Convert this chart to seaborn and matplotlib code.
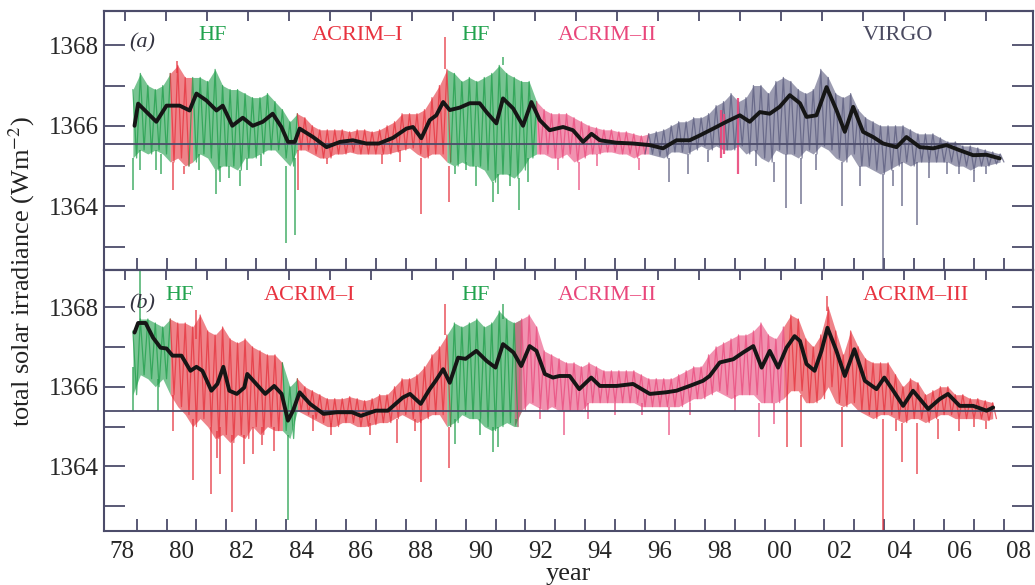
import numpy as np
import matplotlib
matplotlib.use("Agg")
import matplotlib.pyplot as plt
import seaborn as sns

# ---------------- data (years are 1900-based: 78 = 1978, 100 = 2000) ----------------
grid_start = 78.375
grid_step = 0.25

# panel (a): upper / lower envelope of the daily values, one pair per quarter year
hi_a = [1366.9, 1367.3, 1367.0, 1366.9, 1367.0, 1367.3, 1367.5, 1367.2, 1367.2, 1367.2,
        1367.1, 1367.4, 1367.0, 1366.9, 1366.9, 1366.8, 1366.7, 1366.7, 1366.8, 1366.6,
        1366.4, 1366.1, 1366.3, 1366.2, 1366.0, 1365.9, 1365.9, 1365.9, 1365.9, 1365.85,
        1365.9, 1365.9, 1365.85, 1365.9, 1366.0, 1366.1, 1366.3, 1366.3, 1366.3, 1366.4,
        1366.7, 1367.0, 1367.4, 1367.3, 1367.1, 1367.2, 1367.1, 1367.2, 1367.3, 1367.5,
        1367.3, 1367.2, 1367.1, 1367.1, 1366.6, 1366.4, 1366.3, 1366.3, 1366.3, 1366.2,
        1366.1, 1366.0, 1365.95, 1365.9, 1365.9, 1365.85, 1365.85, 1365.8, 1365.75, 1365.8,
        1365.85, 1365.9, 1366.0, 1366.1, 1366.1, 1366.2, 1366.2, 1366.3, 1366.5, 1366.6,
        1366.8, 1366.6, 1366.7, 1367.0, 1367.0, 1366.8, 1367.1, 1367.2, 1367.1, 1366.9,
        1366.8, 1366.9, 1367.4, 1367.2, 1366.8, 1366.7, 1366.8, 1366.4, 1366.2, 1366.1,
        1366.0, 1366.0, 1366.0, 1366.0, 1365.9, 1365.8, 1365.8, 1365.8, 1365.7, 1365.6,
        1365.6, 1365.5, 1365.5, 1365.45, 1365.4, 1365.35, 1365.3]
lo_a = [1365.2, 1365.4, 1365.3, 1365.4, 1365.3, 1365.1, 1365.2, 1365.0, 1365.1, 1365.3,
        1365.2, 1364.9, 1365.0, 1365.0, 1364.9, 1365.2, 1365.2, 1365.3, 1365.4, 1365.4,
        1365.2, 1365.0, 1365.4, 1365.4, 1365.3, 1365.2, 1365.2, 1365.3, 1365.3, 1365.35,
        1365.3, 1365.3, 1365.3, 1365.3, 1365.3, 1365.35, 1365.4, 1365.45, 1365.3, 1365.2,
        1365.3, 1365.3, 1365.1, 1365.0, 1365.1, 1365.0, 1365.0, 1364.9, 1364.6, 1364.8,
        1364.8, 1364.7, 1364.9, 1365.2, 1365.3, 1365.3, 1365.2, 1365.2, 1365.3, 1365.1,
        1365.2, 1365.3, 1365.3, 1365.35, 1365.35, 1365.3, 1365.3, 1365.2, 1365.3, 1365.3,
        1365.25, 1365.2, 1365.35, 1365.35, 1365.3, 1365.4, 1365.5, 1365.4, 1365.5, 1365.4,
        1365.4, 1365.5, 1365.3, 1365.4, 1365.2, 1365.1, 1365.4, 1365.3, 1365.3, 1365.2,
        1365.4, 1365.3, 1365.5, 1365.4, 1365.2, 1365.1, 1365.3, 1365.0, 1365.0, 1364.9,
        1364.8, 1364.9, 1365.0, 1365.1, 1365.0, 1365.1, 1365.1, 1365.1, 1365.1, 1365.1,
        1365.0, 1365.0, 1364.9, 1365.0, 1365.0, 1365.05, 1365.1]

# panel (b)
hi_b = [1367.4, 1367.7, 1367.7, 1367.6, 1367.5, 1367.7, 1367.6, 1367.6, 1367.5, 1367.8,
        1367.4, 1367.3, 1367.5, 1367.2, 1367.1, 1367.2, 1367.0, 1366.9, 1366.8, 1366.8,
        1366.6, 1366.0, 1366.2, 1366.0, 1365.9, 1365.8, 1365.7, 1365.7, 1365.7, 1365.75,
        1365.7, 1365.65, 1365.7, 1365.8, 1365.8, 1366.0, 1366.2, 1366.2, 1366.3, 1366.5,
        1366.8, 1367.0, 1367.3, 1367.6, 1367.5, 1367.6, 1367.7, 1367.5, 1367.6, 1367.9,
        1367.7, 1367.6, 1367.7, 1367.8, 1367.5, 1366.9, 1366.8, 1366.7, 1366.6, 1366.6,
        1366.5, 1366.6, 1366.5, 1366.4, 1366.4, 1366.4, 1366.4, 1366.4, 1366.3, 1366.2,
        1366.2, 1366.2, 1366.2, 1366.3, 1366.4, 1366.5, 1366.5, 1366.8, 1367.0, 1367.1,
        1367.2, 1367.3, 1367.3, 1367.4, 1367.6, 1367.3, 1367.2, 1367.5, 1367.8, 1367.7,
        1367.2, 1367.0, 1367.3, 1368.0, 1367.4, 1366.8, 1367.4, 1367.0, 1366.7, 1366.6,
        1366.6, 1366.6, 1366.3, 1366.0, 1366.2, 1366.1, 1365.8, 1365.9, 1366.0, 1366.0,
        1365.8, 1365.8, 1365.7, 1365.7, 1365.65, 1365.6]
lo_b = [1365.8, 1366.3, 1366.2, 1366.0, 1366.2, 1365.8, 1365.5, 1365.3, 1365.0, 1365.2,
        1365.0, 1364.7, 1364.8, 1364.6, 1364.8, 1364.7, 1365.0, 1364.8, 1365.0, 1364.9,
        1364.9, 1364.7, 1365.4, 1365.3, 1365.2, 1365.1, 1365.0, 1365.0, 1365.1, 1365.1,
        1365.0, 1365.0, 1365.05, 1365.1, 1365.1, 1365.2, 1365.3, 1365.2, 1365.1, 1365.2,
        1365.3, 1365.3, 1365.0, 1365.1, 1365.3, 1365.2, 1365.2, 1365.0, 1364.9, 1365.0,
        1365.1, 1365.0, 1365.4, 1365.6, 1365.5, 1365.4, 1365.5, 1365.4, 1365.4, 1365.4,
        1365.4, 1365.6, 1365.6, 1365.6, 1365.6, 1365.6, 1365.6, 1365.6, 1365.5, 1365.5,
        1365.5, 1365.5, 1365.5, 1365.5, 1365.6, 1365.7, 1365.7, 1365.8, 1365.9, 1365.8,
        1365.7, 1365.8, 1365.8, 1365.8, 1365.6, 1365.6, 1365.6, 1365.7, 1365.9, 1365.9,
        1365.6, 1365.6, 1365.7, 1366.0, 1365.6, 1365.5, 1365.6, 1365.4, 1365.3, 1365.2,
        1365.3, 1365.3, 1365.2, 1365.1, 1365.2, 1365.2, 1365.1, 1365.2, 1365.3, 1365.3,
        1365.2, 1365.2, 1365.2, 1365.2, 1365.15, 1365.2]

# instrument segments (name, start year, end year)
seg_a = [("HF", 78.3, 79.65), ("ACRIM-I", 79.65, 80.3), ("HF", 80.3, 83.85),
         ("ACRIM-I", 83.85, 88.97), ("HF", 88.97, 91.9), ("ACRIM-II", 91.9, 95.56),
         ("VIRGO", 95.56, 107.45)]
seg_b = [("HF", 78.3, 79.6), ("ACRIM-I", 79.6, 83.35), ("HF", 83.35, 83.85),
         ("ACRIM-I", 83.85, 88.97), ("HF", 88.97, 91.25), ("ACRIM-II", 91.25, 100.2),
         ("ACRIM-III", 100.2, 107.3)]

# isolated daily spikes (year, low end, high end)
spk_a_year = [78.38, 78.6, 79.15, 79.3, 79.72, 79.85, 80.1, 80.6, 81.17, 81.3, 81.6, 81.95,
              82.2, 82.65, 83.5, 83.79, 83.9, 84.85, 86.7, 87.3, 88.0, 88.8, 88.93, 89.15,
              89.5, 89.85, 90.4, 90.6, 90.75, 91.0, 91.3, 91.6, 92.6, 93.3, 93.9, 95.3,
              96.3, 96.95, 97.6, 99.2, 99.8, 100.2, 100.7, 101.2, 102.1, 102.7, 103.45,
              103.8, 104.1, 104.6, 105.0, 105.6, 106.0, 106.5, 106.9]
spk_a_lo = [1364.4, 1364.9, 1364.9, 1364.8, 1364.4, 1367.3, 1364.8, 1364.9, 1364.3, 1364.6,
            1364.7, 1364.5, 1364.9, 1365.0, 1363.1, 1363.3, 1364.4, 1365.05, 1365.05, 1365.1,
            1363.8, 1367.4, 1364.1, 1364.8, 1364.9, 1364.5, 1364.1, 1364.3, 1367.5, 1364.5,
            1363.9, 1364.6, 1364.9, 1364.4, 1365.0, 1364.9, 1364.6, 1364.8, 1365.1, 1365.0,
            1364.6, 1363.95, 1364.07, 1364.9, 1364.02, 1364.5, 1362.4, 1364.5, 1364.0,
            1363.53, 1364.7, 1364.8, 1364.8, 1364.6, 1364.8]
spk_a_hi = [1365.2, 1365.4, 1365.4, 1365.3, 1365.1, 1367.6, 1365.0, 1365.3, 1364.9, 1365.0,
            1365.0, 1364.9, 1365.2, 1365.3, 1365.0, 1365.2, 1365.4, 1365.2, 1365.3, 1365.4,
            1365.2, 1368.2, 1365.0, 1365.0, 1365.1, 1365.0, 1364.6, 1364.8, 1367.7, 1364.8,
            1364.7, 1365.2, 1365.2, 1365.1, 1365.3, 1365.2, 1365.2, 1365.3, 1365.4, 1365.4,
            1365.1, 1365.3, 1365.2, 1365.3, 1365.1, 1365.0, 1364.8, 1364.9, 1365.1, 1365.1,
            1365.1, 1365.1, 1365.0, 1364.9, 1365.0]
# ACRIM-II days overlaid on VIRGO in panel (a)
ov_a_year = [98.05, 98.15, 98.6]
ov_a_lo = [1365.2, 1365.3, 1364.8]
ov_a_hi = [1366.4, 1366.3, 1366.7]

spk_b_year = [78.38, 78.62, 79.2, 79.7, 80.4, 80.5, 81.0, 81.2, 81.3, 81.7, 82.1, 82.4,
              82.7, 83.1, 83.56, 84.4, 85.0, 86.3, 87.2, 87.8, 88.0, 88.8, 88.93, 89.14,
              89.97, 90.4, 90.6, 90.75, 91.2, 92.0, 92.8, 93.6, 94.5, 95.4, 96.3, 97.0,
              98.5, 99.3, 99.8, 100.25, 100.7, 101.6, 102.1, 103.45, 103.9, 104.1, 104.6,
              105.3, 106.0, 106.5, 106.9]
spk_b_lo = [1365.4, 1367.6, 1365.4, 1364.9, 1363.65, 1367.2, 1363.32, 1364.2, 1363.8,
            1362.86, 1364.05, 1364.3, 1364.55, 1364.4, 1362.65, 1364.9, 1364.8, 1364.8,
            1364.6, 1364.9, 1363.6, 1367.3, 1363.95, 1364.57, 1364.8, 1364.36, 1364.5,
            1367.7, 1365.0, 1365.2, 1364.78, 1365.2, 1365.3, 1365.3, 1364.78, 1365.3,
            1365.4, 1364.73, 1365.07, 1364.48, 1364.48, 1367.9, 1364.5, 1362.4, 1364.9,
            1364.1, 1363.82, 1364.7, 1364.9, 1365.0, 1364.95]
spk_b_hi = [1366.5, 1369.2, 1366.2, 1365.8, 1365.2, 1367.92, 1365.0, 1364.9, 1365.0,
            1364.8, 1364.8, 1365.0, 1365.0, 1365.0, 1364.8, 1365.3, 1365.1, 1365.1,
            1365.2, 1365.2, 1365.2, 1368.07, 1365.0, 1365.2, 1365.2, 1365.0, 1365.0,
            1368.07, 1365.2, 1365.5, 1365.4, 1365.6, 1365.6, 1365.6, 1365.5, 1365.6,
            1365.8, 1365.6, 1365.6, 1365.7, 1365.8, 1368.27, 1365.5, 1365.2, 1365.2,
            1365.1, 1365.1, 1365.2, 1365.2, 1365.2, 1365.15]

# 81-day running mean (black curve)
sm_a_year = [78.43, 78.55, 79.16, 79.5, 79.94, 80.27, 80.5, 80.83, 81.17, 81.38, 81.7, 82.05,
             82.38, 82.72, 83.05, 83.34, 83.56, 83.79, 83.95, 84.4, 84.85, 85.3, 85.73, 86.18,
             86.6, 87.07, 87.52, 87.74, 88.02, 88.3, 88.52, 88.75, 88.97, 89.3, 89.64, 89.97,
             90.2, 90.53, 90.75, 91.09, 91.42, 91.7, 91.98, 92.31, 92.76, 93.09, 93.43, 93.71,
             93.99, 94.54, 95.1, 95.66, 96.1, 96.55, 96.99, 97.33, 97.78, 98.22, 98.67, 99.0,
             99.34, 99.67, 100.0, 100.34, 100.68, 100.9, 101.23, 101.57, 101.9, 102.18,
             102.46, 102.79, 103.13, 103.46, 103.91, 104.24, 104.69, 105.13, 105.58, 106.03,
             106.47, 106.92, 107.36]
sm_a_val = [1366.0, 1366.55, 1366.1, 1366.5, 1366.5, 1366.38, 1366.8, 1366.63, 1366.38, 1366.5,
            1366.0, 1366.2, 1366.0, 1366.1, 1366.3, 1365.97, 1365.6, 1365.6, 1365.93, 1365.72,
            1365.47, 1365.6, 1365.64, 1365.56, 1365.56, 1365.7, 1365.93, 1365.97, 1365.69,
            1366.14, 1366.26, 1366.59, 1366.39, 1366.45, 1366.56, 1366.56, 1366.34, 1366.06,
            1366.68, 1366.43, 1366.0, 1366.59, 1366.14, 1365.89, 1365.97, 1365.89, 1365.6,
            1365.8, 1365.64, 1365.58, 1365.56, 1365.52, 1365.44, 1365.64, 1365.64, 1365.76,
            1365.93, 1366.1, 1366.26, 1366.1, 1366.34, 1366.3, 1366.47, 1366.76, 1366.56,
            1366.22, 1366.26, 1366.96, 1366.39, 1365.85, 1366.47, 1365.85, 1365.72, 1365.56,
            1365.47, 1365.72, 1365.47, 1365.44, 1365.52, 1365.39, 1365.27, 1365.28, 1365.19]
sm_b_year = [78.43, 78.55, 78.8, 79.05, 79.3, 79.5, 79.7, 80.0, 80.3, 80.5, 80.7, 81.0, 81.2,
             81.4, 81.6, 81.85, 82.1, 82.2, 82.5, 82.8, 83.1, 83.35, 83.56, 83.73, 83.95, 84.3,
             84.75, 85.2, 85.7, 86.0, 86.5, 86.9, 87.4, 87.64, 88.0, 88.3, 88.5, 88.75, 88.97,
             89.25, 89.5, 89.86, 90.2, 90.5, 90.75, 91.1, 91.36, 91.64, 91.87, 92.15, 92.42,
             92.64, 92.98, 93.3, 93.7, 93.99, 94.55, 95.1, 95.66, 96.2, 96.55, 96.99, 97.44,
             97.66, 98.0, 98.45, 98.78, 99.12, 99.4, 99.67, 99.95, 100.23, 100.5, 100.68,
             100.9, 101.17, 101.4, 101.6, 101.9, 102.18, 102.5, 102.85, 103.24, 103.5, 103.8,
             104.13, 104.46, 104.97, 105.35, 105.63, 106.02, 106.47, 106.92, 107.14]
sm_b_val = [1367.36, 1367.6, 1367.6, 1367.23, 1366.98, 1366.96, 1366.78, 1366.78, 1366.4,
            1366.5, 1366.4, 1365.9, 1366.07, 1366.5, 1365.9, 1365.82, 1365.98, 1366.32,
            1366.07, 1365.82, 1366.02, 1365.82, 1365.15, 1365.4, 1365.86, 1365.57, 1365.32,
            1365.36, 1365.36, 1365.27, 1365.4, 1365.4, 1365.73, 1365.82, 1365.57, 1365.94,
            1366.15, 1366.44, 1366.1, 1366.73, 1366.7, 1366.9, 1366.65, 1366.48, 1367.07,
            1366.86, 1366.52, 1367.02, 1366.9, 1366.32, 1366.23, 1366.27, 1366.27, 1365.94,
            1366.23, 1366.02, 1366.02, 1366.07, 1365.82, 1365.86, 1365.9, 1366.02, 1366.15,
            1366.27, 1366.61, 1366.69, 1366.86, 1367.02, 1366.48, 1366.9, 1366.48, 1366.98,
            1367.27, 1367.15, 1366.57, 1366.4, 1366.9, 1367.48, 1366.9, 1366.27, 1366.94,
            1366.15, 1365.94, 1366.23, 1365.9, 1365.52, 1365.9, 1365.44, 1365.69, 1365.82,
            1365.52, 1365.52, 1365.4, 1365.48]

ref_a = 1365.54
ref_b = 1365.38

tick_years = [78, 80, 82, 84, 86, 88, 90, 92, 94, 96, 98, 100, 102, 104, 106, 108]
tick_labels = ["78", "80", "82", "84", "86", "88", "90", "92", "94", "96", "98",
               "00", "02", "04", "06", "08"]

labels_a = [("(a)", 78.67, 1368.07), ("HF", 81.03, 1368.25), ("ACRIM\u2013I", 85.9, 1368.25),
            ("HF", 89.84, 1368.25), ("ACRIM\u2013II", 94.25, 1368.25), ("VIRGO", 103.95, 1368.25)]
labels_b = [("(b)", 78.7, 1368.07), ("HF", 79.94, 1368.28), ("ACRIM\u2013I", 84.29, 1368.28),
            ("HF", 89.84, 1368.28), ("ACRIM\u2013II", 94.25, 1368.28), ("ACRIM\u2013III", 104.57, 1368.28)]

# ---------------- style ----------------
colors = {"HF": "#1f9e4a", "ACRIM-I": "#e5303b", "ACRIM-II": "#e9497c",
          "ACRIM-III": "#e5303b", "VIRGO": "#5a5b7e"}
text_colors = {"HF": "#22a34f", "ACRIM\u2013I": "#e8323f", "ACRIM\u2013II": "#e9477b",
               "ACRIM\u2013III": "#e8323f", "VIRGO": "#4a4a60", "(a)": "#333340", "(b)": "#333340"}
frame = "#4c4c6a"

sns.set_theme(style="ticks")
plt.rcParams["font.family"] = ["Liberation Serif", "DejaVu Serif"]
plt.rcParams["mathtext.fontset"] = "stix"

fig = plt.figure(figsize=(10.35, 5.85), dpi=100)
ax_a = fig.add_axes([0.1005, 0.5385, 0.8975, 0.4427])
ax_b = fig.add_axes([0.1005, 0.0923, 0.8975, 0.4462])


def seg_color(segs, yr):
    for name, s, e in segs:
        if s <= yr < e:
            return colors[name]
    return colors[segs[-1][0]]


def draw_panel(ax, hi, lo, segs, sy, slo, shi, smy, smv, ref, texts, ylim):
    hi = np.asarray(hi)
    lo = np.asarray(lo)
    t = grid_start + grid_step * np.arange(len(hi))
    zx = np.empty(2 * len(t))
    zy = np.empty(2 * len(t))
    zx[0::2] = t
    zx[1::2] = t + grid_step / 2
    zy[0::2] = hi
    zy[1::2] = lo
    for name, s, e in segs:
        c = colors[name]
        m = (t >= s - 0.13) & (t <= e + 0.13)
        ax.fill_between(t[m], lo[m], hi[m], color=c, alpha=0.6, lw=0)
        mz = (zx >= s - 0.07) & (zx <= e + 0.07)
        sns.lineplot(x=zx[mz], y=zy[mz], ax=ax, color=c, lw=0.9, alpha=0.75,
                     estimator=None, sort=False, legend=False)
    for yr, a, b in zip(sy, slo, shi):
        ax.vlines(yr, a, b, color=seg_color(segs, yr), lw=1.3, alpha=0.7)
    ax.axhline(ref, color=frame, lw=1.3, zorder=4)
    sns.lineplot(x=smy, y=smv, ax=ax, color="#161616", lw=2.8, estimator=None,
                 sort=False, legend=False, zorder=5)
    for txt, x, y in texts:
        ax.text(x, y, txt, color=text_colors[txt], fontsize=16, ha="center", va="center",
                fontstyle="italic" if txt.startswith("(") else "normal")
    ax.set_xlim(77.41, 108.47)
    ax.set_ylim(*ylim)
    ax.set_yticks([1364, 1366, 1368])
    ax.set_yticks([1363, 1365, 1367], minor=True)
    ax.set_xticks(tick_years)
    ax.set_xticks(np.arange(78.5, 108.0, 1.0), minor=True)
    ax.set_xticklabels(tick_labels)
    ax.tick_params(axis="x", which="major", length=0, pad=7, labelsize=18, top=False)
    ax.tick_params(axis="x", which="minor", length=9, width=1.3, direction="in",
                   color=frame, top=False)
    ax.tick_params(axis="y", which="both", length=15, width=1.3, direction="in",
                   left=True, right=True, color=frame, labelsize=18, pad=4)
    for sp in ax.spines.values():
        sp.set_color(frame)
        sp.set_linewidth(1.5)
    sec = ax.secondary_xaxis("top")
    sec.set_xticks(78.1 + 1.372 * np.arange(22))
    sec.set_xticklabels([])
    sec.tick_params(axis="x", direction="in", length=7, width=1.3, color=frame)
    sec.spines["top"].set_color(frame)
    sec.spines["top"].set_linewidth(1.5)
    ax.set_xlabel("")
    ax.set_ylabel("")


draw_panel(ax_a, hi_a, lo_a, seg_a, spk_a_year, spk_a_lo, spk_a_hi, sm_a_year, sm_a_val,
           ref_a, labels_a, (1362.42, 1368.85))
for yr, a, b in zip(ov_a_year, ov_a_lo, ov_a_hi):
    ax_a.vlines(yr, a, b, color=colors["ACRIM-II"], lw=1.6, alpha=0.9, zorder=3)
draw_panel(ax_b, hi_b, lo_b, seg_b, spk_b_year, spk_b_lo, spk_b_hi, sm_b_year, sm_b_val,
           ref_b, labels_b, (1362.38, 1368.93))
ax_a.tick_params(axis="x", labelbottom=False)

fig.text(22 / 1035, 0.535, "total solar irradiance (Wm$^{-2}$)", rotation=90,
         ha="center", va="center", fontsize=19, color="#222222")
fig.text(568 / 1035, 1 - 574 / 585, "year", ha="center", va="center", fontsize=19,
         color="#222222")

fig.savefig("out.png", dpi=100)
